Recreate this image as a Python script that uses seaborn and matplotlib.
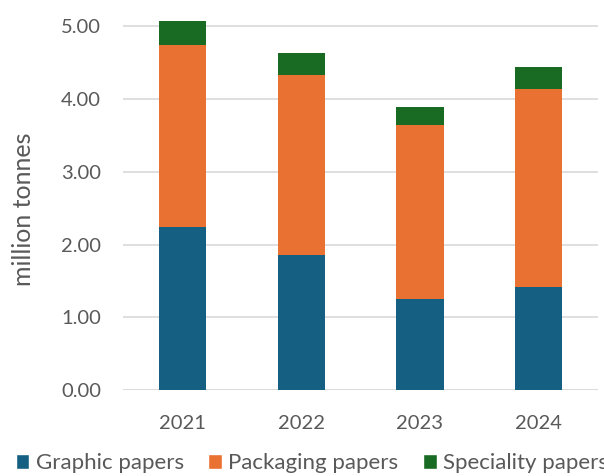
import matplotlib
matplotlib.use("Agg")
import matplotlib.pyplot as plt
import seaborn as sns
import pandas as pd
from matplotlib.patches import Patch

# Data (million tonnes)
years = ["2021", "2022", "2023", "2024"]
graphic = [2.24, 1.86, 1.26, 1.42]
packaging = [2.50, 2.47, 2.38, 2.72]
speciality = [0.33, 0.30, 0.25, 0.30]

colors = {"Graphic papers": "#156082", "Packaging papers": "#E97132", "Speciality papers": "#196B24"}
text_color = "#595959"

sns.set_style("white")
plt.rcParams["font.family"] = ["Lato", "DejaVu Sans"]

df = pd.DataFrame({"year": years, "graphic": graphic, "packaging": packaging, "speciality": speciality})
df["lvl2"] = df["graphic"] + df["packaging"]
df["lvl3"] = df["lvl2"] + df["speciality"]

fig = plt.figure(figsize=(6.04, 4.76), dpi=100)
ax = fig.add_axes([0.204, 0.18, 0.786, 0.811])

# stacked bars: draw cumulative totals from the top layer down
bar_kw = dict(width=0.4, saturation=1, linewidth=0, edgecolor="none", ax=ax, zorder=2)
sns.barplot(data=df, x="year", y="lvl3", color=colors["Speciality papers"], **bar_kw)
sns.barplot(data=df, x="year", y="lvl2", color=colors["Packaging papers"], **bar_kw)
sns.barplot(data=df, x="year", y="graphic", color=colors["Graphic papers"], **bar_kw)

ax.set_xlim(-0.5, 3.5)
ax.set_ylim(0, 5.3)
ax.set_yticks([0, 1, 2, 3, 4, 5])
ax.set_yticklabels([f"{v:.2f}" for v in [0, 1, 2, 3, 4, 5]])
ax.yaxis.grid(True, color="#D9D9D9", linewidth=1.2, zorder=0)
ax.set_axisbelow(True)
for s in ax.spines.values():
    s.set_visible(False)
ax.axhline(0, color="#D9D9D9", linewidth=1.2, zorder=1)

ax.tick_params(axis="both", length=0, labelsize=14.5, colors=text_color)
ax.tick_params(axis="y", pad=16)
ax.tick_params(axis="x", pad=18)
ax.set_xlabel("")
ax.set_ylabel("million tonnes", fontsize=18, color=text_color)
ax.yaxis.set_label_coords(-0.185, 0.468)

handles = [Patch(facecolor=c, label=k) for k, c in colors.items()]
fig.legend(handles=handles, loc="lower left", bbox_to_anchor=(0.026, 0.006), ncol=3,
           frameon=False, fontsize=16, handlelength=0.62, handleheight=0.62,
           handletextpad=0.28, columnspacing=1.1, borderpad=0, borderaxespad=0,
           labelcolor=text_color)

fig.savefig("out.png", dpi=100)
